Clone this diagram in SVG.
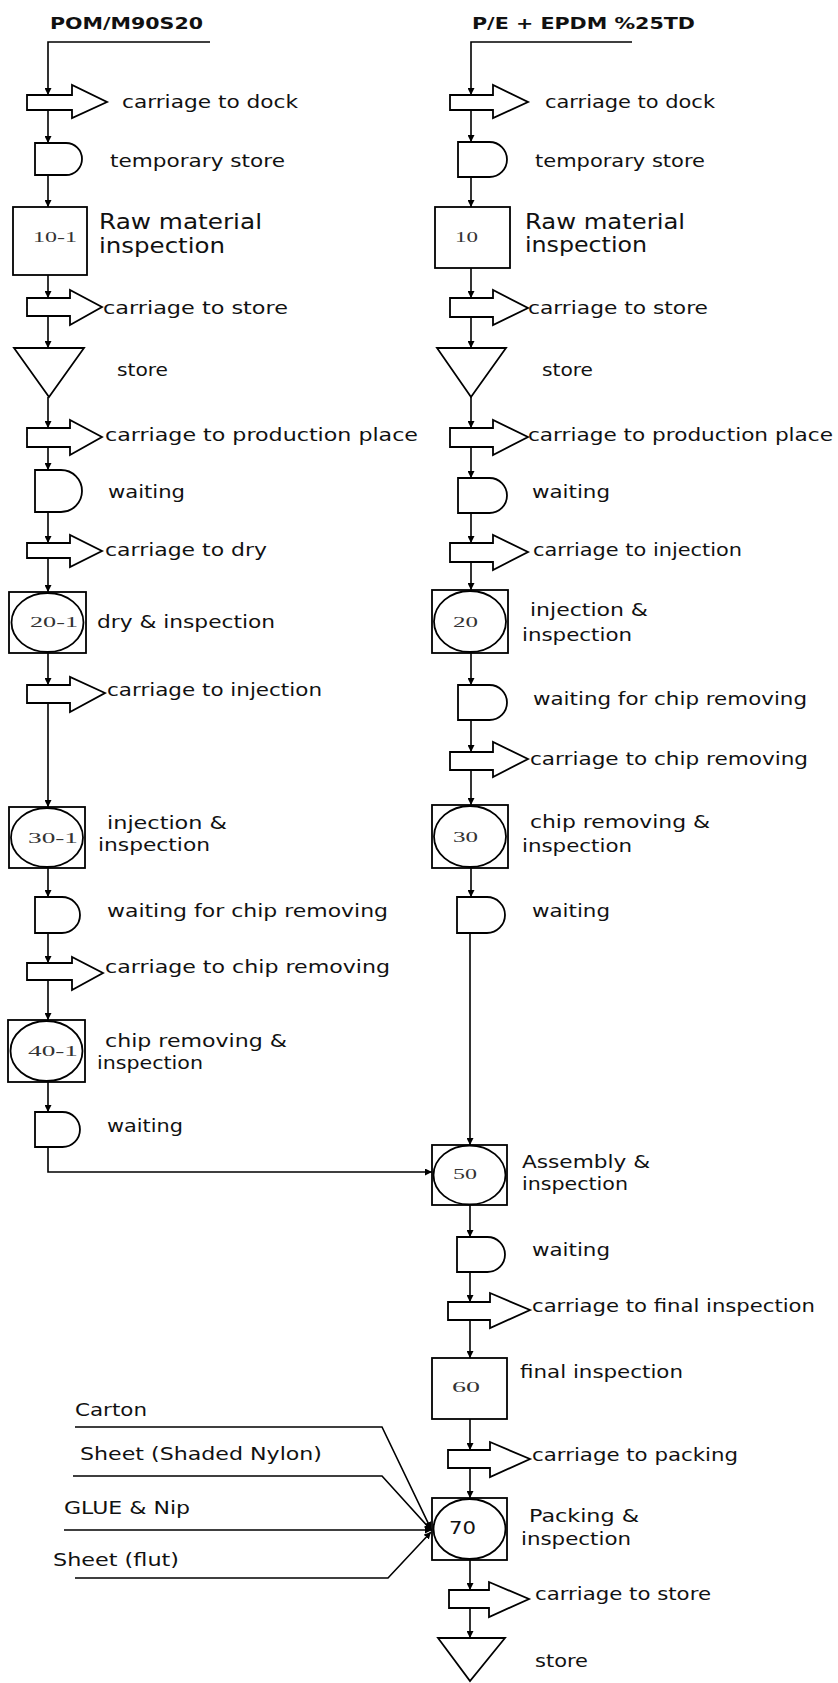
<svg xmlns="http://www.w3.org/2000/svg" width="838" height="1683" viewBox="0 0 838 1683">
<style>
.ln{fill:none;stroke:#000;stroke-width:1.6}
.sh{fill:#fff;stroke:#000;stroke-width:1.8}
.t{font-family:"DejaVu Sans","Liberation Sans",sans-serif;font-size:17px;fill:#111}
.tm{font-size:18px}
.tb{font-size:21px}
.ti{font-family:"DejaVu Sans","Liberation Sans",sans-serif;font-size:15px;font-weight:bold;fill:#111}
.n{font-family:"Liberation Serif","DejaVu Serif",serif;font-size:15px;fill:#333}
</style>
<defs>
<marker id="ah" viewBox="0 0 8 8" markerWidth="7" markerHeight="7" refX="8" refY="4" orient="auto" markerUnits="userSpaceOnUse">
<path d="M0,0 L8,4 L0,8 Z" fill="#000"/>
</marker>
</defs>

<g id="connectors">
<polyline class="ln" points="210,42 48,42 48,95" marker-end="url(#ah)"/>
<line class="ln" x1="48" y1="110" x2="48" y2="143" marker-end="url(#ah)"/>
<line class="ln" x1="48" y1="175" x2="48" y2="207" marker-end="url(#ah)"/>
<line class="ln" x1="48" y1="275" x2="48" y2="298" marker-end="url(#ah)"/>
<line class="ln" x1="48" y1="316" x2="48" y2="348" marker-end="url(#ah)"/>
<line class="ln" x1="48" y1="397" x2="48" y2="428" marker-end="url(#ah)"/>
<line class="ln" x1="48" y1="447" x2="48" y2="470" marker-end="url(#ah)"/>
<line class="ln" x1="48" y1="512" x2="48" y2="543" marker-end="url(#ah)"/>
<line class="ln" x1="48" y1="558" x2="48" y2="592" marker-end="url(#ah)"/>
<line class="ln" x1="48" y1="653" x2="48" y2="685" marker-end="url(#ah)"/>
<line class="ln" x1="48" y1="703" x2="48" y2="807" marker-end="url(#ah)"/>
<line class="ln" x1="48" y1="868" x2="48" y2="897" marker-end="url(#ah)"/>
<line class="ln" x1="48" y1="933" x2="48" y2="963" marker-end="url(#ah)"/>
<line class="ln" x1="48" y1="980" x2="48" y2="1020" marker-end="url(#ah)"/>
<line class="ln" x1="48" y1="1082" x2="48" y2="1112" marker-end="url(#ah)"/>
<polyline class="ln" points="48,1147 48,1172 432,1172" marker-end="url(#ah)"/>

<polyline class="ln" points="632,42 471,42 471,95" marker-end="url(#ah)"/>
<line class="ln" x1="471" y1="110" x2="471" y2="142" marker-end="url(#ah)"/>
<line class="ln" x1="471" y1="177" x2="471" y2="207" marker-end="url(#ah)"/>
<line class="ln" x1="471" y1="268" x2="471" y2="298" marker-end="url(#ah)"/>
<line class="ln" x1="471" y1="317" x2="471" y2="348" marker-end="url(#ah)"/>
<line class="ln" x1="471" y1="397" x2="471" y2="428" marker-end="url(#ah)"/>
<line class="ln" x1="471" y1="447" x2="471" y2="478" marker-end="url(#ah)"/>
<line class="ln" x1="471" y1="513" x2="471" y2="543" marker-end="url(#ah)"/>
<line class="ln" x1="471" y1="562" x2="471" y2="590" marker-end="url(#ah)"/>
<line class="ln" x1="471" y1="653" x2="471" y2="685" marker-end="url(#ah)"/>
<line class="ln" x1="471" y1="720" x2="471" y2="752" marker-end="url(#ah)"/>
<line class="ln" x1="471" y1="770" x2="471" y2="805" marker-end="url(#ah)"/>
<line class="ln" x1="471" y1="868" x2="471" y2="897" marker-end="url(#ah)"/>
<line class="ln" x1="470" y1="933" x2="470" y2="1145" marker-end="url(#ah)"/>
<line class="ln" x1="470" y1="1205" x2="470" y2="1237" marker-end="url(#ah)"/>
<line class="ln" x1="470" y1="1272" x2="470" y2="1302" marker-end="url(#ah)"/>
<line class="ln" x1="470" y1="1320" x2="470" y2="1358" marker-end="url(#ah)"/>
<line class="ln" x1="470" y1="1419" x2="470" y2="1450" marker-end="url(#ah)"/>
<line class="ln" x1="470" y1="1468" x2="470" y2="1498" marker-end="url(#ah)"/>
<line class="ln" x1="470" y1="1560" x2="470" y2="1590" marker-end="url(#ah)"/>
<line class="ln" x1="470" y1="1608" x2="470" y2="1638" marker-end="url(#ah)"/>

<polyline class="ln" points="75,1427 382,1427 431,1529" marker-end="url(#ah)"/>
<polyline class="ln" points="73,1476 382,1476 431,1530" marker-end="url(#ah)"/>
<line class="ln" x1="64" y1="1530" x2="432" y2="1530" marker-end="url(#ah)"/>
<polyline class="ln" points="75,1578 388,1578 431,1532" marker-end="url(#ah)"/>
</g>

<g id="title-left"><text class="ti" x="50" y="29" textLength="153" lengthAdjust="spacingAndGlyphs">POM/M90S20</text></g>
<g id="title-right"><text class="ti" x="472" y="29" textLength="223" lengthAdjust="spacingAndGlyphs">P/E + EPDM %25TD</text></g>

<!-- Left column -->
<g id="L-carriage-dock">
<path class="sh" d="M27,95 H72 V85 L107,102 L72,118 V110 H27 Z"/>
<text class="t" x="122" y="108" textLength="176" lengthAdjust="spacingAndGlyphs">carriage to dock</text>
</g>
<g id="L-temp-store">
<path class="sh" d="M35,143 H66 A16,16 0 0 1 66,175 H35 Z"/>
<text class="t" x="110" y="167" textLength="175" lengthAdjust="spacingAndGlyphs">temporary store</text>
</g>
<g id="L-10-1">
<rect class="sh" x="13" y="207" width="74" height="68"/>
<text class="n" x="33" y="242" textLength="44" lengthAdjust="spacingAndGlyphs">10-1</text>
<text class="t tb" x="99" y="229" textLength="163" lengthAdjust="spacingAndGlyphs">Raw material</text>
<text class="t tb" x="99" y="253" textLength="126" lengthAdjust="spacingAndGlyphs">inspection</text>
</g>
<g id="L-carriage-store">
<path class="sh" d="M27,298 H70 V290 L102,307 L70,325 V316 H27 Z"/>
<text class="t" x="103" y="314" textLength="185" lengthAdjust="spacingAndGlyphs">carriage to store</text>
</g>
<g id="L-store">
<polygon class="sh" points="14,348 84,348 49,397"/>
<text class="t" x="117" y="376" textLength="51" lengthAdjust="spacingAndGlyphs">store</text>
</g>
<g id="L-carriage-production">
<path class="sh" d="M27,428 H70 V420 L102,437 L70,455 V447 H27 Z"/>
<text class="t" x="105" y="441" textLength="313" lengthAdjust="spacingAndGlyphs">carriage to production place</text>
</g>
<g id="L-waiting-1">
<path class="sh" d="M35,470 H61 A21,21 0 0 1 61,512 H35 Z"/>
<text class="t" x="108" y="498" textLength="77" lengthAdjust="spacingAndGlyphs">waiting</text>
</g>
<g id="L-carriage-dry">
<path class="sh" d="M27,543 H70 V535 L102,551 L70,567 V558 H27 Z"/>
<text class="t" x="105" y="556" textLength="162" lengthAdjust="spacingAndGlyphs">carriage to dry</text>
</g>
<g id="L-20-1">
<rect class="sh" x="9" y="592" width="77" height="61"/>
<ellipse class="sh" cx="47.5" cy="622.5" rx="36" ry="29.5"/>
<text class="n" x="30" y="627" textLength="48" lengthAdjust="spacingAndGlyphs">20-1</text>
<text class="t tm" x="97" y="628" textLength="178" lengthAdjust="spacingAndGlyphs">dry &amp; inspection</text>
</g>
<g id="L-carriage-injection">
<path class="sh" d="M27,685 H70 V677 L105,693 L70,712 V703 H27 Z"/>
<text class="t" x="107" y="696" textLength="215" lengthAdjust="spacingAndGlyphs">carriage to injection</text>
</g>
<g id="L-30-1">
<rect class="sh" x="9" y="807" width="76" height="61"/>
<ellipse class="sh" cx="47" cy="837.5" rx="36" ry="29.5"/>
<text class="n" x="28" y="843" textLength="50" lengthAdjust="spacingAndGlyphs">30-1</text>
<text class="t tm" x="107" y="829" textLength="120" lengthAdjust="spacingAndGlyphs">injection &amp;</text>
<text class="t tm" x="98" y="851" textLength="112" lengthAdjust="spacingAndGlyphs">inspection</text>
</g>
<g id="L-waiting-chip">
<path class="sh" d="M35,897 H62 A18,18 0 0 1 62,933 H35 Z"/>
<text class="t" x="107" y="917" textLength="281" lengthAdjust="spacingAndGlyphs">waiting for chip removing</text>
</g>
<g id="L-carriage-chip">
<path class="sh" d="M27,963 H72 V957 L103,973 L72,990 V980 H27 Z"/>
<text class="t" x="105" y="973" textLength="285" lengthAdjust="spacingAndGlyphs">carriage to chip removing</text>
</g>
<g id="L-40-1">
<rect class="sh" x="8" y="1020" width="77" height="62"/>
<ellipse class="sh" cx="46.5" cy="1051" rx="36" ry="30"/>
<text class="n" x="28" y="1056" textLength="50" lengthAdjust="spacingAndGlyphs">40-1</text>
<text class="t tm" x="105" y="1047" textLength="182" lengthAdjust="spacingAndGlyphs">chip removing &amp;</text>
<text class="t tm" x="97" y="1069" textLength="106" lengthAdjust="spacingAndGlyphs">inspection</text>
</g>
<g id="L-waiting-2">
<path class="sh" d="M35,1112 H62.5 A17.5,17.5 0 0 1 62.5,1147 H35 Z"/>
<text class="t" x="107" y="1132" textLength="76" lengthAdjust="spacingAndGlyphs">waiting</text>
</g>

<!-- Right column -->
<g id="R-carriage-dock">
<path class="sh" d="M450,95 H493 V85 L528,102 L493,118 V110 H450 Z"/>
<text class="t" x="545" y="108" textLength="170" lengthAdjust="spacingAndGlyphs">carriage to dock</text>
</g>
<g id="R-temp-store">
<path class="sh" d="M458,142 H489.5 A17.5,17.5 0 0 1 489.5,177 H458 Z"/>
<text class="t" x="535" y="167" textLength="170" lengthAdjust="spacingAndGlyphs">temporary store</text>
</g>
<g id="R-10">
<rect class="sh" x="435" y="207" width="75" height="61"/>
<text class="n" x="455" y="242" textLength="23" lengthAdjust="spacingAndGlyphs">10</text>
<text class="t tb" x="525" y="229" textLength="160" lengthAdjust="spacingAndGlyphs">Raw material</text>
<text class="t tb" x="525" y="252" textLength="122" lengthAdjust="spacingAndGlyphs">inspection</text>
</g>
<g id="R-carriage-store">
<path class="sh" d="M450,298 H493 V290 L528,308 L493,325 V317 H450 Z"/>
<text class="t" x="528" y="314" textLength="180" lengthAdjust="spacingAndGlyphs">carriage to store</text>
</g>
<g id="R-store">
<polygon class="sh" points="437,348 506,348 471,397"/>
<text class="t" x="542" y="376" textLength="51" lengthAdjust="spacingAndGlyphs">store</text>
</g>
<g id="R-carriage-production">
<path class="sh" d="M450,428 H493 V420 L528,437 L493,455 V447 H450 Z"/>
<text class="t" x="528" y="441" textLength="305" lengthAdjust="spacingAndGlyphs">carriage to production place</text>
</g>
<g id="R-waiting-1">
<path class="sh" d="M458,478 H489.5 A17.5,17.5 0 0 1 489.5,513 H458 Z"/>
<text class="t" x="532" y="498" textLength="78" lengthAdjust="spacingAndGlyphs">waiting</text>
</g>
<g id="R-carriage-injection">
<path class="sh" d="M450,543 H493 V535 L528,552 L493,570 V562 H450 Z"/>
<text class="t" x="533" y="556" textLength="209" lengthAdjust="spacingAndGlyphs">carriage to injection</text>
</g>
<g id="R-20">
<rect class="sh" x="432" y="590" width="76" height="63"/>
<ellipse class="sh" cx="470" cy="621.5" rx="36" ry="30.5"/>
<text class="n" x="453" y="627" textLength="25" lengthAdjust="spacingAndGlyphs">20</text>
<text class="t tm" x="530" y="616" textLength="118" lengthAdjust="spacingAndGlyphs">injection &amp;</text>
<text class="t tm" x="522" y="641" textLength="110" lengthAdjust="spacingAndGlyphs">inspection</text>
</g>
<g id="R-waiting-chip">
<path class="sh" d="M458,685 H489.5 A17.5,17.5 0 0 1 489.5,720 H458 Z"/>
<text class="t" x="533" y="705" textLength="274" lengthAdjust="spacingAndGlyphs">waiting for chip removing</text>
</g>
<g id="R-carriage-chip">
<path class="sh" d="M450,752 H493 V742 L528,759 L493,777 V770 H450 Z"/>
<text class="t" x="530" y="765" textLength="278" lengthAdjust="spacingAndGlyphs">carriage to chip removing</text>
</g>
<g id="R-30">
<rect class="sh" x="432" y="805" width="76" height="63"/>
<ellipse class="sh" cx="470" cy="836.5" rx="36" ry="30.5"/>
<text class="n" x="453" y="842" textLength="25" lengthAdjust="spacingAndGlyphs">30</text>
<text class="t tm" x="530" y="828" textLength="180" lengthAdjust="spacingAndGlyphs">chip removing &amp;</text>
<text class="t tm" x="522" y="852" textLength="110" lengthAdjust="spacingAndGlyphs">inspection</text>
</g>
<g id="R-waiting-2">
<path class="sh" d="M457,897 H487 A18,18 0 0 1 487,933 H457 Z"/>
<text class="t" x="532" y="917" textLength="78" lengthAdjust="spacingAndGlyphs">waiting</text>
</g>
<g id="R-50">
<rect class="sh" x="432" y="1145" width="75" height="60"/>
<ellipse class="sh" cx="469.5" cy="1175" rx="36" ry="29.5"/>
<text class="n" x="453" y="1179" textLength="24" lengthAdjust="spacingAndGlyphs">50</text>
<text class="t tm" x="522" y="1168" textLength="128" lengthAdjust="spacingAndGlyphs">Assembly &amp;</text>
<text class="t tm" x="522" y="1190" textLength="106" lengthAdjust="spacingAndGlyphs">inspection</text>
</g>
<g id="R-waiting-3">
<path class="sh" d="M457,1237 H487.5 A17.5,17.5 0 0 1 487.5,1272 H457 Z"/>
<text class="t" x="532" y="1256" textLength="78" lengthAdjust="spacingAndGlyphs">waiting</text>
</g>
<g id="R-carriage-final">
<path class="sh" d="M448,1302 H490 V1293 L530,1310 L490,1328 V1320 H448 Z"/>
<text class="t" x="532" y="1312" textLength="283" lengthAdjust="spacingAndGlyphs">carriage to final inspection</text>
</g>
<g id="R-60">
<rect class="sh" x="432" y="1358" width="75" height="61"/>
<text class="n" x="452" y="1392" textLength="28" lengthAdjust="spacingAndGlyphs">60</text>
<text class="t tm" x="520" y="1378" textLength="163" lengthAdjust="spacingAndGlyphs">final inspection</text>
</g>
<g id="R-carriage-packing">
<path class="sh" d="M448,1450 H490 V1442 L530,1459 L490,1477 V1468 H448 Z"/>
<text class="t" x="532" y="1461" textLength="206" lengthAdjust="spacingAndGlyphs">carriage to packing</text>
</g>
<g id="R-70">
<rect class="sh" x="432" y="1498" width="75" height="62"/>
<ellipse class="sh" cx="469.5" cy="1529" rx="36" ry="30"/>
<text class="t" x="449" y="1534" textLength="27" lengthAdjust="spacingAndGlyphs">70</text>
<text class="t tm" x="529" y="1522" textLength="110" lengthAdjust="spacingAndGlyphs">Packing &amp;</text>
<text class="t tm" x="521" y="1545" textLength="110" lengthAdjust="spacingAndGlyphs">inspection</text>
</g>
<g id="R-carriage-store-2">
<path class="sh" d="M449,1590 H489 V1582 L529,1599 L489,1617 V1608 H449 Z"/>
<text class="t" x="535" y="1600" textLength="176" lengthAdjust="spacingAndGlyphs">carriage to store</text>
</g>
<g id="R-store-2">
<polygon class="sh" points="438,1638 505,1638 470,1681"/>
<text class="t" x="535" y="1667" textLength="53" lengthAdjust="spacingAndGlyphs">store</text>
</g>

<!-- Packing inputs -->
<g id="in-carton"><text class="t" x="75" y="1416" textLength="72" lengthAdjust="spacingAndGlyphs">Carton</text></g>
<g id="in-sheet-nylon"><text class="t" x="80" y="1460" textLength="242" lengthAdjust="spacingAndGlyphs">Sheet (Shaded Nylon)</text></g>
<g id="in-glue"><text class="t" x="64" y="1514" textLength="126" lengthAdjust="spacingAndGlyphs">GLUE &amp; Nip</text></g>
<g id="in-sheet-flut"><text class="t" x="53" y="1566" textLength="126" lengthAdjust="spacingAndGlyphs">Sheet (flut)</text></g>
</svg>
